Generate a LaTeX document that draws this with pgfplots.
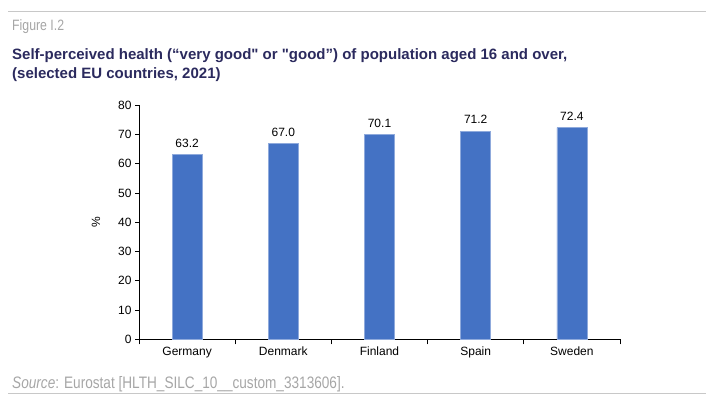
\documentclass[border=0pt]{standalone}
\usepackage{fontspec}
\setmainfont{Liberation Sans}
\newfontfamily\narrowfont[FakeStretch=0.82]{Liberation Sans}
\usepackage{pgfplots}
\pgfplotsset{compat=1.18}
\definecolor{barblue}{HTML}{4472C4}
\definecolor{baredge}{HTML}{8FAADC}
\definecolor{titlecol}{HTML}{2B2A5E}
\definecolor{graytext}{HTML}{A6A6A6}
\definecolor{rulegray}{HTML}{C8C8C8}
\begin{document}
\begin{tikzpicture}[x=1pt,y=1pt]
\useasboundingbox (0,0) rectangle (706,397);
\draw[line width=1pt, color=rulegray] (8,385) -- (706,385);
\draw[line width=1pt, color=rulegray] (8,4) -- (706,4);
\node[anchor=base west, inner sep=0pt, text=graytext, font=\narrowfont\fontsize{15}{17}\selectfont] at (12,366) {Figure I.2};
\node[anchor=base west, inner sep=0pt, text=titlecol, font=\bfseries\fontsize{15}{19}\selectfont] at (12,337.7) {Self-perceived health (“very good\textquotedbl{} or \textquotedbl{}good”) of population aged 16 and over,};
\node[anchor=base west, inner sep=0pt, text=titlecol, font=\bfseries\fontsize{15}{19}\selectfont] at (12,318.7) {(selected EU countries, 2021)};
\node[anchor=base west, inner sep=0pt, text=graytext, font=\narrowfont\fontsize{16.6}{18}\selectfont] at (12,9) {\textit{Source}: Eurostat [HLTH\_SILC\_10\_\_custom\_3313606].};
\begin{axis}[
  at={(139pt,57.7pt)}, anchor=south west,
  width=481pt, height=234pt, scale only axis,
  xmin=-0.5, xmax=4.5, ymin=0, ymax=80,
  axis x line*=bottom, axis y line*=left,
  axis line style={line width=0.8pt, -},
  ytick={0,10,...,80},
  xtick={0,1,2,3,4},
  xticklabels={Germany,Denmark,Finland,Spain,Sweden},
  minor xtick={-0.5,0.5,1.5,2.5,3.5,4.5},
  major x tick style={draw=none},
  minor x tick style={draw=black, line width=0.8pt},
  major y tick style={draw=black, line width=0.8pt},
  tick align=outside,
  major tick length=4pt, minor tick length=5pt,
  ticklabel style={font=\fontsize{12}{14}\selectfont},
  /pgf/number format/assume math mode=true,
  ylabel={\%},
  ylabel style={at={(axis description cs:0,0.5)}, anchor=center, yshift=43pt, font=\fontsize{12}{14}\selectfont},
  ybar, bar width=30pt,
  nodes near coords,
  nodes near coords style={font=\fontsize{12}{14}\selectfont, yshift=3.5pt, /pgf/number format/.cd, fixed, fixed zerofill, precision=1},
]
\addplot[fill=barblue, draw=baredge, line width=0.6pt] coordinates {(0,63.2) (1,67.0) (2,70.1) (3,71.2) (4,72.4)};
\end{axis}
\end{tikzpicture}
\end{document}
